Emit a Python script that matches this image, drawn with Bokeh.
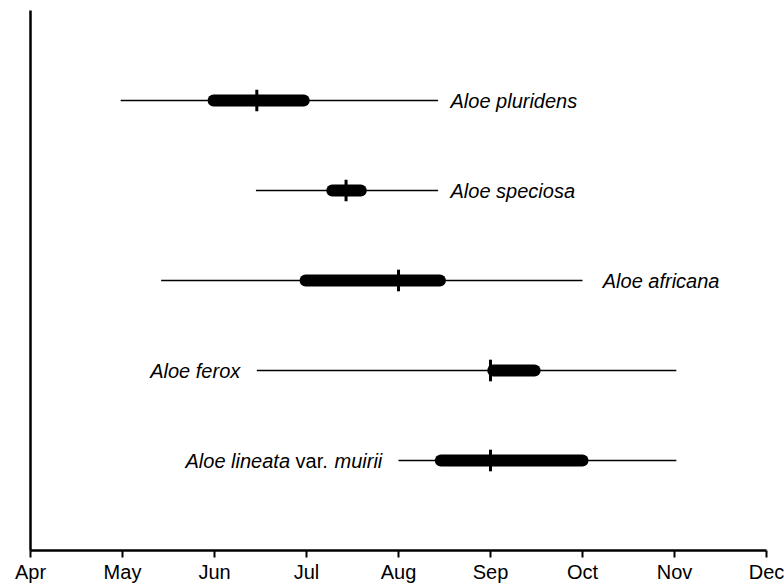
from bokeh.plotting import figure
from bokeh.models import ColumnDataSource, FixedTicker, Range1d
from bokeh.core.properties import value
from bokeh.embed import file_html
from bokeh.resources import INLINE

# x in months since 1 April (0 = Apr, 8 = Dec)
months = ["Apr", "May", "Jun", "Jul", "Aug", "Sep", "Oct", "Nov", "Dec"]
species = ["Aloe pluridens", "Aloe speciosa", "Aloe africana", "Aloe ferox", "Aloe lineata var. muirii"]
row = [5, 4, 3, 2, 1]
range_start = [0.98, 2.45, 1.42, 2.46, 4.0]
range_end = [4.43, 4.43, 6.0, 7.02, 7.02]
peak_start = [1.99, 3.28, 2.99, 5.03, 4.46]
peak_end = [2.97, 3.59, 4.45, 5.48, 6.0]
peak = [2.46, 3.43, 4.0, 5.0, 5.0]

# label anchors (data x) and alignment
label_text = ["Aloe pluridens", "Aloe speciosa", "Aloe africana", "Aloe ferox"]
label_x = [4.565, 4.565, 6.22, 2.28]
label_row = [5, 4, 3, 2]
label_align = ["left", "left", "left", "right"]
# multi-style label for the last row
lineata_parts = ["Aloe lineata", "var.", "muirii"]
lineata_style = ["italic", "normal", "italic"]
lineata_anchor = 1.685
lineata_offset = [0, 110, 149]

FONT = "Liberation Sans"

p = figure(width=784, height=585, output_backend="svg", toolbar_location=None,
           x_range=Range1d(0, 8), y_range=Range1d(0, 6),
           min_border_left=30, min_border_right=18, min_border_top=10, min_border_bottom=35)
p.outline_line_color = None
p.grid.visible = False
p.background_fill_color = "white"

src = ColumnDataSource(dict(row=row, rs=range_start, re=range_end, ps=peak_start, pe=peak_end,
                            pk=peak, pk_lo=[r - 0.12 for r in row], pk_hi=[r + 0.12 for r in row]))
p.segment(x0="rs", y0="row", x1="re", y1="row", source=src, line_color="black", line_width=1.6)
p.segment(x0="ps", y0="row", x1="pe", y1="row", source=src, line_color="black", line_width=12,
          line_cap="round")
p.segment(x0="pk", y0="pk_lo", x1="pk", y1="pk_hi", source=src, line_color="black", line_width=3)

lsrc = ColumnDataSource(dict(x=label_x, y=label_row, t=label_text, a=label_align))
p.text(x="x", y="y", text="t", text_align="a", source=lsrc, text_baseline="middle",
       text_font=value(FONT), text_font_style="italic", text_font_size="20px", text_color="black")
for part, style, off in zip(lineata_parts, lineata_style, lineata_offset):
    p.text(x=[lineata_anchor], y=[1], text=[part], x_offset=off, text_align="left",
           text_baseline="middle", text_font=value(FONT), text_font_style=style,
           text_font_size="20px", text_color="black")

p.xaxis.ticker = FixedTicker(ticks=list(range(len(months))))
p.xaxis.major_label_overrides = {i: m for i, m in enumerate(months)}
p.xaxis.major_label_text_font = FONT
p.xaxis.major_label_text_font_size = "20px"
p.xaxis.major_label_text_color = "black"
p.xaxis.axis_line_width = 2.5
p.xaxis.major_tick_line_width = 2
p.xaxis.major_tick_out = 7
p.xaxis.major_tick_in = 0
p.xaxis.minor_tick_line_color = None
p.xaxis.major_label_standoff = 3

p.yaxis.ticker = FixedTicker(ticks=[])
p.yaxis.axis_line_width = 2.5
p.yaxis.major_tick_line_color = None
p.yaxis.minor_tick_line_color = None
p.yaxis.major_label_text_font_size = "0px"

open("out.html", "w").write(file_html(p, INLINE))
